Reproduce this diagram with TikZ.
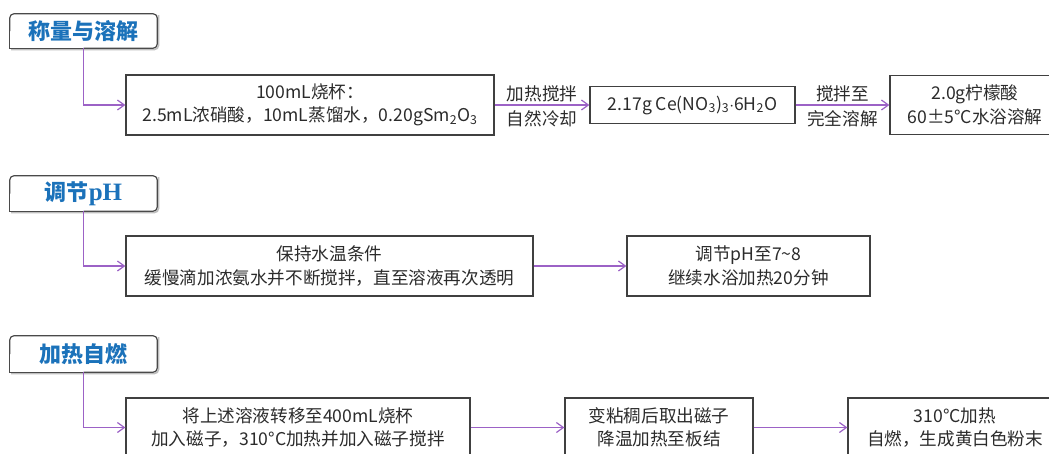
\documentclass[tikz,border=0pt]{standalone}
\usepackage{fontspec}
\setmainfont{Noto Sans CJK SC}
\newfontfamily\hserif{Liberation Serif}
\usetikzlibrary{arrows.meta}
\definecolor{hblue}{HTML}{1B72BA}
\definecolor{connc}{HTML}{9C62C6}
\definecolor{bord}{HTML}{404040}
\definecolor{hbord}{HTML}{4A4A4A}
\definecolor{txt}{HTML}{2B2B2B}
\tikzset{
  box/.style={draw=bord, line width=1.2pt, align=center, inner sep=0pt,
    font=\fontsize{17.6}{23.5}\selectfont, text=txt},
  hdr/.style={inner sep=0pt, minimum width=147pt,
    font=\fontsize{22}{24}\selectfont\bfseries, text=hblue},
  hline/.style={draw=hbord, line width=1.2pt},
  hshadow/.style={draw=black!25, line width=1.6pt},
  conn/.style={draw=connc, line width=1.2pt, -{Straight Barb[length=7pt,width=10pt]}},
  lab/.style={font=\fontsize{17.6}{20}\selectfont, text=txt, inner sep=0pt}
}
\newcommand{\hdrframe}[1]{%
  \draw[hshadow, rounded corners=4pt] ([shift={(1.3,1.3)}]#1.south west) -- ([shift={(1.3,1.3)}]#1.south east) -- ([shift={(1.3,1.3)}]#1.north east);
  \draw[hline, rounded corners=4pt] (#1.south) -- (#1.south east) -- (#1.north east) -- (#1.north west) -- (#1.west);
  \draw[hline, line cap=round] (#1.west) -- (#1.south west) -- (#1.south);
}
\begin{document}
\begin{tikzpicture}[x=1pt,y=-1pt]
\useasboundingbox (0,0) rectangle (1049,453);
\clip (0,0) rectangle (1049,453);

% ---- row 1
\node[hdr, minimum height=34pt] (h1) at (83.5,31) {称量与溶解};
\hdrframe{h1}
\node[box, minimum width=368pt, minimum height=60pt] (b1) at (310,105)
  {100mL烧杯：\\2.5mL浓硝酸，10mL蒸馏水，0.20gSm\textsubscript{2}O\textsubscript{3}};
\node[box, minimum width=205pt, minimum height=37pt] (b2) at (692.5,105)
  {2.17g Ce(NO\textsubscript{3})\textsubscript{3}$\cdot$6H\textsubscript{2}O};
\node[box, minimum width=170pt, minimum height=59pt] (b3) at (975,105)
  {2.0g柠檬酸\\60±5°C水浴溶解};
\draw[conn] (h1.south) |- (b1.west);
\draw[conn] (b1.east) -- (b2.west);
\draw[conn] (b2.east) -- (b3.west);
\path (b1.east) -- (b2.west)
  node[midway, lab, yshift=11.5pt] (l1a) {加热搅拌}
  node[midway, lab, yshift=-14pt] (l1b) {自然冷却};
\path (b2.east) -- (b3.west)
  node[midway, lab, yshift=11.5pt] (l2a) {搅拌至}
  node[midway, lab, yshift=-14pt] (l2b) {完全溶解};

% ---- row 2
\node[hdr, minimum height=35pt] (h2) at (83.5,193.5) {调节{\hserif\fontsize{25}{26}\selectfont pH}};
\hdrframe{h2}
\node[box, minimum width=407pt, minimum height=60pt] (b4) at (329.5,266)
  {保持水温条件\\缓慢滴加浓氨水并不断搅拌，直至溶液再次透明};
\node[box, minimum width=243pt, minimum height=60pt] (b5) at (748.5,266)
  {调节pH至7\textasciitilde8\\继续水浴加热20分钟};
\draw[conn] (h2.south) |- (b4.west);
\draw[conn] (b4.east) -- (b5.west);

% ---- row 3
\node[hdr, minimum height=36pt] (h3) at (83.5,354) {加热自燃};
\hdrframe{h3}
\node[box, minimum width=344pt, minimum height=59pt] (b6) at (298,427.5)
  {将上述溶液转移至400mL烧杯\\加入磁子，310°C加热并加入磁子搅拌};
\node[box, minimum width=188pt, minimum height=59pt] (b7) at (659,427.5)
  {变粘稠后取出磁子\\降温加热至板结};
\node[box, minimum width=214pt, minimum height=59pt] (b8) at (955,427.5)
  {310°C加热\\自燃，生成黄白色粉末};
\draw[conn] (h3.south) |- (b6.west);
\draw[conn] (b6.east) -- (b7.west);
\draw[conn] (b7.east) -- (b8.west);
\end{tikzpicture}
\end{document}
